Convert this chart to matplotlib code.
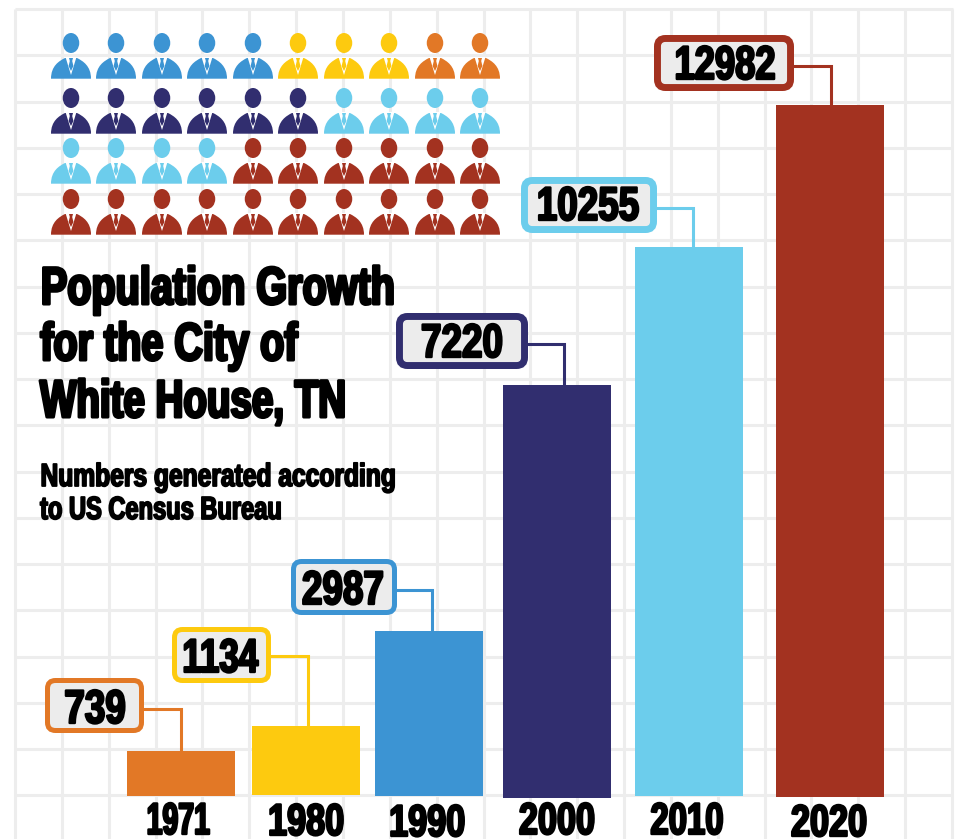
import matplotlib
matplotlib.use("Agg")
import matplotlib.pyplot as plt
import matplotlib.patheffects as pe
from matplotlib.patches import FancyBboxPatch, PathPatch, Ellipse, Polygon
from matplotlib.path import Path
from matplotlib.transforms import Affine2D

years = ["1971", "1980", "1990", "2000", "2010", "2020"]
population = [739, 1134, 2987, 7220, 10255, 12982]
# bars in the picture are not to scale with the labels, so heights are read off separately
bar_heights = [45, 69, 165, 413, 549, 692]
bar_bottoms = [0, 1, 0, -2, 0, -1]
colors = ["#e27826", "#fdca0f", "#3c94d3", "#312e6f", "#6ccdec", "#a33220"]
icon_counts = [5, 3, 2, 6, 4, 4, 6, 10]
icon_colors = ["#3c94d3", "#fdca0f", "#e27826", "#312e6f", "#6ccdec", "#6ccdec", "#a33220", "#a33220"]

bar_left = [127, 252, 375, 503, 635, 776]
bar_width = 108
FONT = ["Liberation Sans", "DejaVu Sans"]
GRID = "#ededed"


class Squeezed(pe.AbstractPathEffect):
    # no condensed heavy font is installed, so narrow the glyphs and thicken them
    def __init__(self, sx, stroke, left=False, drop=0):
        super().__init__()
        self.sx = sx
        self.stroke = stroke
        self.left = left
        self.drop = drop

    def draw_path(self, renderer, gc, tpath, affine, rgbFace=None):
        ext = tpath.get_extents()
        mid = ext.x0 if self.left else (ext.x0 + ext.x1) / 2
        squeeze = Affine2D().translate(-mid, 0).scale(self.sx, 1).translate(mid, 0)
        gc0 = renderer.new_gc()
        gc0.copy_properties(gc)
        gc0.set_linewidth(self.stroke)
        gc0.set_foreground("black")
        renderer.draw_path(gc0, tpath, squeeze + affine + Affine2D().translate(0, -self.drop), rgbFace)
        gc0.restore()


fig = plt.figure(figsize=(9.65, 8.39), dpi=100)
ax = fig.add_axes([0, 0, 1, 1])
ax.set_xlim(0, 965)
ax.set_ylim(839, 0)
ax.axis("off")

# background grid
for i in range(21):
    x = 15 + 46.85 * i
    ax.plot([x, x], [9, 839], color=GRID, lw=2.2, zorder=1, solid_capstyle="butt")
for i in range(18):
    y = 9 + 46.25 * i
    ax.plot([15, 953], [y, y], color=GRID, lw=2.2, zorder=1, solid_capstyle="butt")

# bars on their own axes, baseline at the bottom of the grid
bar_ax = fig.add_axes([0, 0, 1, 1], zorder=2)
bar_ax.set_xlim(0, 965)
bar_ax.set_ylim(-43, 796)
bar_ax.axis("off")
centers = [left + bar_width / 2 for left in bar_left]
bar_ax.bar(centers, bar_heights, width=bar_width, bottom=bar_bottoms, color=colors)

# year labels, anchored higher and dropped back so the text box stays inside the figure
year_x = [178, 306, 427, 557, 687, 829]
year_base = [834, 835, 836, 834, 834, 836]
year_sx = [0.64, 0.77, 0.77, 0.77, 0.74, 0.77]
for i in range(6):
    ax.text(year_x[i], year_base[i] - 8, years[i], family=FONT, fontweight="bold", fontsize=32, ha="center",
            va="baseline", zorder=5, path_effects=[Squeezed(year_sx[i], 1.7, drop=8)])

# callouts: left, top, right, bottom of the outer edge
boxes = [(45, 678, 144, 733), (172, 627, 271, 683), (291, 559, 397, 615),
         (396, 313, 528, 369), (521, 177, 657, 233), (654, 35, 794, 91)]
border = [3.6, 3.6, 3.6, 5, 5, 5]
elbow_y = [709, 656, 590, 344, 208, 66]
stem_x = [181, 308, 432, 564, 693, 831]
num_x = [95, 220, 343, 462, 588, 725]
num_base = [723, 672, 604, 357, 220, 79]
num_sx = [0.78, 0.74, 0.78, 0.78, 0.78, 0.77]
for i in range(6):
    left, top, right, bottom = boxes[i]
    bar_top = 796 - bar_heights[i] - bar_bottoms[i]
    ax.plot([right, stem_x[i], stem_x[i]], [elbow_y[i], elbow_y[i], bar_top], color=colors[i], lw=2.2,
            zorder=3, solid_joinstyle="miter")
    inset = border[i] * 100 / 72 / 2 + 6
    box = FancyBboxPatch((left + inset, top + inset), right - left - 2 * inset, bottom - top - 2 * inset,
                         boxstyle="round,pad=6,rounding_size=8", facecolor="#ececec", edgecolor=colors[i],
                         lw=border[i], zorder=4)
    ax.add_patch(box)
    ax.text(num_x[i], num_base[i], str(population[i]), family=FONT, fontweight="bold", fontsize=34,
            ha="center", va="baseline", zorder=5, path_effects=[Squeezed(num_sx[i], 1.7)])

# person icon, drawn around (0, 0) at the head centre
body_path = Path(
    [(-20, 35.7), (-20, 23), (-12, 18), (-6, 15), (6, 15), (12, 18), (20, 23), (20, 35.7), (-20, 35.7)],
    [Path.MOVETO, Path.CURVE4, Path.CURVE4, Path.CURVE4, Path.LINETO, Path.CURVE4, Path.CURVE4, Path.CURVE4,
     Path.CLOSEPOLY])
collar = [(-5.5, 14), (0, 32), (5.5, 14)]
tie = [(-2, 15), (2, 15), (1.2, 18), (2.4, 23), (0, 28), (-2.4, 23), (-1.2, 18)]


def draw_person(cx, cy, color):
    move = Affine2D().translate(cx, cy) + ax.transData
    ax.add_patch(Ellipse((0, 0), 16.5, 20, facecolor=color, edgecolor="none", transform=move, zorder=3))
    ax.add_patch(PathPatch(body_path, facecolor=color, edgecolor="none", transform=move, zorder=3))
    ax.add_patch(Polygon(collar, facecolor="white", edgecolor="none", transform=move, zorder=4))
    ax.add_patch(Polygon(tie, facecolor=color, edgecolor="none", transform=move, zorder=4))


icon_x = [71, 116, 162, 207, 253, 298, 344, 389, 435, 480]
icon_y = [43, 98, 148, 199]
flat_colors = []
for n, c in zip(icon_counts, icon_colors):
    flat_colors += [c] * n
for i, c in enumerate(flat_colors):
    draw_person(icon_x[i % 10], icon_y[i // 10], c)

# title block
title_lines = ["Population Growth", "for the City of", "White House, TN"]
title_base = [304, 360, 417]
title_sx = [0.75, 0.75, 0.73]
for line, y, sx in zip(title_lines, title_base, title_sx):
    ax.text(40, y, line, family=FONT, fontweight="bold", fontsize=38, ha="left", va="baseline",
            zorder=5, path_effects=[Squeezed(sx, 2.2, left=True)])
ax.text(40, 486, "Numbers generated according", family=FONT, fontweight="bold", fontsize=23, ha="left",
        va="baseline", zorder=5, path_effects=[Squeezed(0.77, 1.3, left=True)])
ax.text(40, 519, "to US Census Bureau", family=FONT, fontweight="bold", fontsize=23, ha="left",
        va="baseline", zorder=5, path_effects=[Squeezed(0.74, 1.3, left=True)])

fig.savefig("out.png", dpi=100)
